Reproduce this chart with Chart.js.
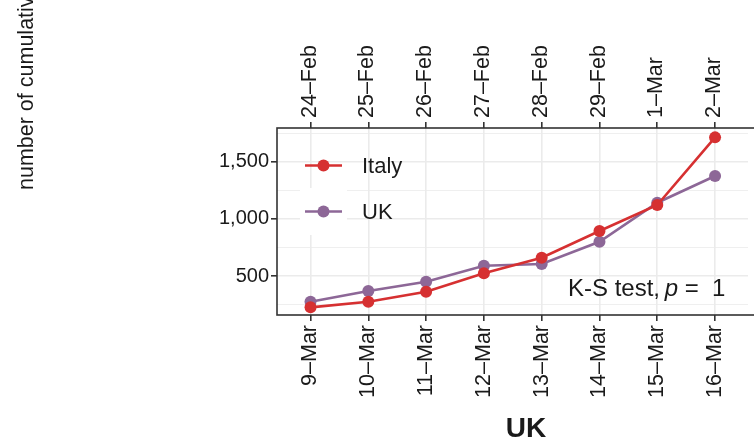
<!DOCTYPE html>
<html>
<head>
<meta charset="utf-8">
<script src="https://cdn.jsdelivr.net/npm/chart.js@4/dist/chart.umd.min.js"></script>
<style>
  html, body { margin: 0; padding: 0; background: #fff; overflow: hidden; }
  #wrap { width: 754px; height: 442px; }
</style>
</head>
<body>
<div id="wrap"><canvas id="chart" width="754" height="442"></canvas></div>
<script>
// Data
const febLabels = ['24\u2013Feb', '25\u2013Feb', '26\u2013Feb', '27\u2013Feb', '28\u2013Feb', '29\u2013Feb', '1\u2013Mar', '2\u2013Mar'];
const marLabels = ['9\u2013Mar', '10\u2013Mar', '11\u2013Mar', '12\u2013Mar', '13\u2013Mar', '14\u2013Mar', '15\u2013Mar', '16\u2013Mar'];
const italyCases = [226, 275, 363, 524, 660, 894, 1121, 1713];
const ukCases = [275, 369, 450, 590, 605, 800, 1141, 1375];
const yTicks = [250, 500, 750, 1000, 1250, 1500, 1750];

// Style
const COLORS = {
    italy: '#D63031',
    uk: '#8D6797',
    grid: '#EBEBEB',
    frame: '#333333',
    text: '#1A1A1A'
};
const FONT = '"Liberation Sans", Arial, sans-serif';

// Draw panel border, legend and annotation text
const extrasPlugin = {
    id: 'extras',
    afterDraw(chart) {
        const ctx = chart.ctx;
        const area = chart.chartArea;
        ctx.save();

        // panel border
        ctx.strokeStyle = COLORS.frame;
        ctx.lineWidth = 1.6;
        ctx.strokeRect(area.left, area.top, area.right - area.left + 20, area.bottom - area.top);

        // y title (clipped off at top, like the reference)
        ctx.fillStyle = COLORS.text;
        ctx.font = '21.5px ' + FONT;
        ctx.translate(33, 190);
        ctx.rotate(-Math.PI / 2);
        ctx.textAlign = 'left';
        ctx.textBaseline = 'alphabetic';
        ctx.fillText('number of cumulative confirmed cases', 0, 0);
        ctx.setTransform(1, 0, 0, 1, 0, 0);

        // x title
        ctx.font = 'bold 28px ' + FONT;
        ctx.textAlign = 'center';
        ctx.fillText('UK', 526, 437);

        // legend (only the UK key has a white box in the reference)
        ctx.fillStyle = '#ffffff';
        ctx.fillRect(300, 188, 47, 47);
        const items = [['Italy', COLORS.italy, 165.5], ['UK', COLORS.uk, 211.5]];
        items.forEach(([name, color, y]) => {
            ctx.strokeStyle = color;
            ctx.lineWidth = 2.6;
            ctx.beginPath();
            ctx.moveTo(305, y);
            ctx.lineTo(342, y);
            ctx.stroke();
            ctx.fillStyle = color;
            ctx.beginPath();
            ctx.arc(323.5, y, 6, 0, Math.PI * 2);
            ctx.fill();
            ctx.fillStyle = COLORS.text;
            ctx.font = '22px ' + FONT;
            ctx.textAlign = 'left';
            ctx.textBaseline = 'middle';
            ctx.fillText(name, 362, y + 1);
        });

        // K-S test text
        ctx.textBaseline = 'alphabetic';
        ctx.font = '24px ' + FONT;
        let x = 568;
        const base = 296;
        const part1 = 'K-S test, ';
        ctx.fillText(part1, x, base);
        x += ctx.measureText(part1).width - 2;
        ctx.font = 'italic 24px ' + FONT;
        ctx.fillText('p', x, base);
        x += ctx.measureText('p').width;
        ctx.font = '24px ' + FONT;
        ctx.fillText(' =  1', x, base);

        ctx.restore();
    }
};

function catAxis(position, labels) {
    return {
        type: 'linear',
        position: position,
        min: -0.58,
        max: 7.57,
        afterBuildTicks: (scale) => {
            scale.ticks = labels.map((_, i) => ({ value: i }));
        },
        afterFit: (scale) => {
            scale.height = position === 'top' ? 128 : 127;
        },
        ticks: {
            autoSkip: false,
            minRotation: 90,
            maxRotation: 90,
            padding: 4,
            labelOffset: position === 'top' ? 25 : 0,
            color: COLORS.text,
            font: { family: FONT, size: 21.5 },
            callback: (v) => labels[v]
        },
        grid: {
            color: COLORS.grid,
            lineWidth: 1.6,
            tickLength: 6,
            tickColor: COLORS.frame,
            tickWidth: 1.6,
            drawOnChartArea: position === 'bottom'
        },
        border: { display: false }
    };
}

function initializeChart() {
    const ctx = document.getElementById('chart').getContext('2d');
    new Chart(ctx, {
        type: 'line',
        data: {
            datasets: [{
                label: 'Italy',
                data: italyCases.map((v, i) => ({ x: i, y: v })),
                xAxisID: 'x2',
                yAxisID: 'y',
                borderColor: COLORS.italy,
                backgroundColor: COLORS.italy,
                borderWidth: 2.6,
                pointRadius: 6,
                pointBorderWidth: 0,
                tension: 0
            }, {
                label: 'UK',
                data: ukCases.map((v, i) => ({ x: i, y: v })),
                xAxisID: 'x',
                yAxisID: 'y',
                borderColor: COLORS.uk,
                backgroundColor: COLORS.uk,
                borderWidth: 2.6,
                pointRadius: 6,
                pointBorderWidth: 0,
                tension: 0
            }]
        },
        options: {
            responsive: false,
            animation: false,
            layout: { padding: 0 },
            plugins: {
                legend: { display: false },
                tooltip: { enabled: false }
            },
            scales: {
                x: catAxis('bottom', marLabels),
                x2: catAxis('top', febLabels),
                y: {
                    type: 'linear',
                    position: 'left',
                    min: 159,
                    max: 1795,
                    afterBuildTicks: (scale) => {
                        scale.ticks = yTicks.map(v => ({ value: v }));
                    },
                    afterFit: (scale) => { scale.width = 277; },
                    ticks: {
                        padding: 2,
                        color: COLORS.text,
                        font: { family: FONT, size: 20 },
                        callback: (v) => v % 500 === 0 ? v.toLocaleString('en-US') : ''
                    },
                    grid: {
                        color: COLORS.grid,
                        lineWidth: (c) => c.tick && c.tick.value % 500 === 0 ? 1.6 : 0.8,
                        tickLength: 6,
                        tickColor: (c) => c.tick && c.tick.value % 500 === 0 ? COLORS.frame : 'rgba(0,0,0,0)',
                        tickWidth: 1.6
                    },
                    border: { display: false }
                }
            }
        },
        plugins: [extrasPlugin]
    });
}

document.addEventListener('DOMContentLoaded', initializeChart);
</script>
</body>
</html>
